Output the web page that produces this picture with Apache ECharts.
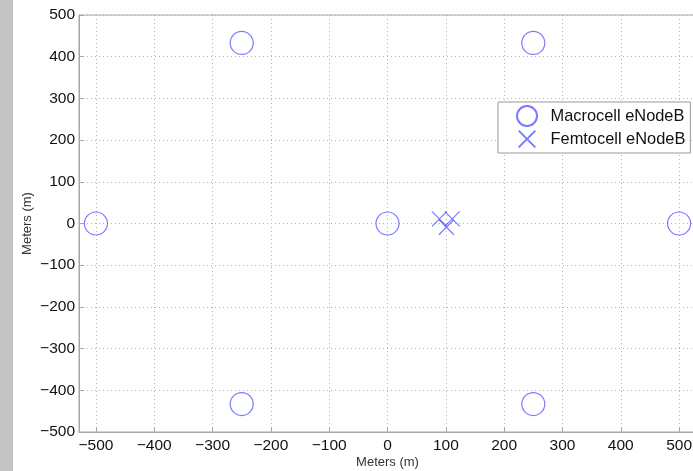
<!DOCTYPE html>
<html>
<head>
<meta charset="utf-8">
<script src="https://cdn.jsdelivr.net/npm/echarts@6/dist/echarts.min.js"></script>
<style>
  html, body { margin: 0; padding: 0; background: #ffffff; }
  #chart { width: 693px; height: 471px; }
</style>
</head>
<body>
<div id="chart"></div>
<script>
// Base station layout (meters)
const macroX = [0, 500, -500, 250, -250, 250, -250];
const macroY = [0, 0, 0, 433, 433, -433, -433];
const femtoX = [89, 111, 101];
const femtoY = [11, 11, -9];
const tickValues = [-500, -400, -300, -200, -100, 0, 100, 200, 300, 400, 500];
const seriesNames = ['Macrocell eNodeB', 'Femtocell eNodeB'];

const markerColor = '#5a5aff';
const crossPath = 'path://M0,0L10,10M10,0L0,10';
// same cross with some empty margin so the legend glyph is a little smaller than the circle
const crossLegendPath = 'path://M-1,-1M0,0L10,10M10,0L0,10M11,11';
const minus = v => String(v).replace('-', '\u2212');

const chart = echarts.init(document.getElementById('chart'), null, { renderer: 'canvas' });

const axisCommon = {
  axisLine: { show: true, onZero: false, lineStyle: { color: '#a6a6a6', width: 1 } },
  axisTick: { show: true, inside: true, length: 5, lineStyle: { color: '#a6a6a6' } },
  splitLine: { show: true, lineStyle: { color: '#b4b4b4', type: [1, 3], width: 1 } },
  nameMoveOverlap: false,
  nameTextStyle: { fontFamily: 'Liberation Sans', fontSize: 13, color: '#333' }
};
const tickFont = { fontFamily: 'Liberation Sans', fontSize: 15.5, color: '#111' };

chart.setOption({
  animation: false,
  backgroundColor: '#ffffff',
  graphic: [
    { type: 'rect', shape: { x: 0, y: 0, width: 13, height: 471 }, style: { fill: '#c4c4c4' }, silent: true }
  ],
  grid: {
    left: 79, top: 15, width: 617, height: 417,
    containLabel: false, outerBoundsMode: 'none',
    show: true, borderColor: '#a6a6a6', borderWidth: 1, backgroundColor: 'transparent'
  },
  legend: {
    orient: 'vertical',
    left: 498, top: 102,
    data: [
      { name: seriesNames[0] },
      { name: seriesNames[1], icon: crossLegendPath }
    ],
    itemWidth: 21, itemHeight: 20, itemGap: 1,
    padding: [3, 5, 3, 18],
    backgroundColor: '#ffffff',
    borderColor: '#999999', borderWidth: 1, borderRadius: 0,
    textStyle: { fontFamily: 'Liberation Sans', fontSize: 16.4, color: '#111', padding: [0, 0, 0, 8] }
  },
  xAxis: Object.assign({}, axisCommon, {
    type: 'value', min: -529, max: 529,
    name: 'Meters (m)', nameLocation: 'middle', nameGap: 24,
    axisTick: Object.assign({}, axisCommon.axisTick, { customValues: tickValues }),
    axisLabel: Object.assign({ customValues: tickValues, formatter: minus, margin: 6 }, tickFont)
  }),
  yAxis: Object.assign({}, axisCommon, {
    type: 'value', min: -500, max: 500, interval: 100,
    name: 'Meters (m)', nameLocation: 'middle', nameGap: 45, nameRotate: 90,
    axisLabel: Object.assign({ formatter: minus, margin: 4 }, tickFont)
  }),
  series: [
    {
      name: seriesNames[0], type: 'scatter',
      data: macroX.map((x, i) => [x, macroY[i]]),
      symbol: 'circle', symbolSize: 23,
      itemStyle: { color: 'rgba(0,0,0,0)', borderColor: markerColor, borderWidth: 1.2 },
      emphasis: { disabled: true }, z: 5
    },
    {
      name: seriesNames[1], type: 'scatter',
      data: femtoX.map((x, i) => [x, femtoY[i]]),
      symbol: crossPath, symbolSize: 15,
      itemStyle: { color: 'rgba(0,0,0,0)', borderColor: markerColor, borderWidth: 1.2 },
      emphasis: { disabled: true }, z: 5
    }
  ]
});
</script>
</body>
</html>
